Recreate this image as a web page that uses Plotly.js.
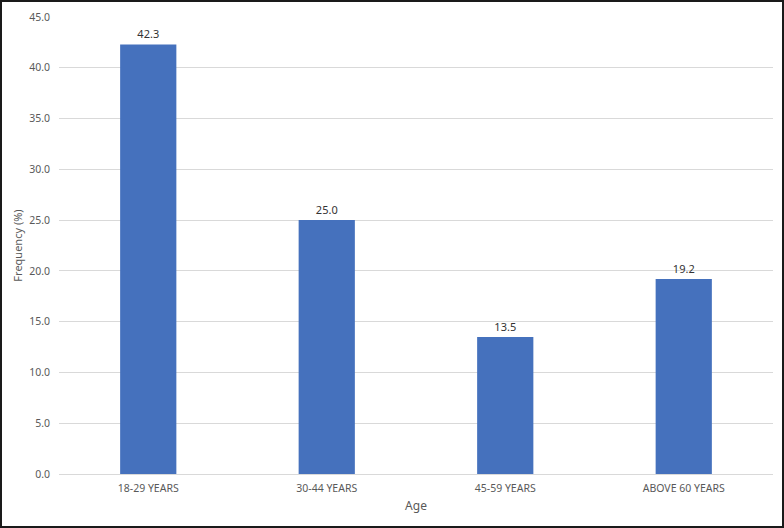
<!DOCTYPE html>
<html>
<head>
<meta charset="utf-8">
<script src="https://cdn.plot.ly/plotly-3.0.1.min.js"></script>
<style>
html,body{margin:0;padding:0;background:#fff;}
#wrap{width:784px;height:528px;box-sizing:border-box;border:2px solid #1a1a1a;position:relative;overflow:hidden;}
#chart{width:780px;height:524px;}
</style>
</head>
<body>
<div id="wrap"><div id="chart"></div></div>
<script>
const categories = ["18-29 YEARS", "30-44 YEARS", "45-59 YEARS", "ABOVE 60 YEARS"];
const frequency = [42.3, 25.0, 13.5, 19.2];
const yTicks = [0, 5, 10, 15, 20, 25, 30, 35, 40, 45];

const font = "Noto Sans, Open Sans, sans-serif";
const trace = {
  type: "bar",
  x: categories,
  y: frequency,
  marker: {color: "#4571BD"},
  texttemplate: "%{y:.1f}",
  textposition: "outside",
  textfont: {family: font, size: 11, color: "#333333"},
  cliponaxis: false,
  hoverinfo: "none"
};
const layout = {
  width: 780, height: 524,
  margin: {l: 57, r: 9, t: 15, b: 52},
  paper_bgcolor: "#ffffff", plot_bgcolor: "#ffffff",
  bargap: 0.685,
  showlegend: false,
  font: {family: font, size: 11, color: "#595959"},
  xaxis: {
    type: "category",
    showgrid: false, showline: false, zeroline: false,
    ticks: "", ticklabelstandoff: 6,
    tickfont: {family: font, size: 10.5, color: "#595959"},
    title: {text: "Age", font: {family: font, size: 12, color: "#595959"}, standoff: 8}
  },
  yaxis: {
    range: [0, 45],
    tickvals: yTicks,
    tickformat: ".1f",
    showgrid: true, gridcolor: "#d9d9d9", gridwidth: 1,
    zeroline: true, zerolinecolor: "#d9d9d9", zerolinewidth: 1,
    showline: false, ticks: "", ticklabelstandoff: 8,
    tickfont: {family: font, size: 10.5, color: "#595959"},
    title: {text: "Frequency (%)", font: {family: font, size: 11, color: "#595959"}, standoff: 4}
  }
};
Plotly.newPlot("chart", [trace], layout, {displayModeBar: false, staticPlot: true});
</script>
</body>
</html>
